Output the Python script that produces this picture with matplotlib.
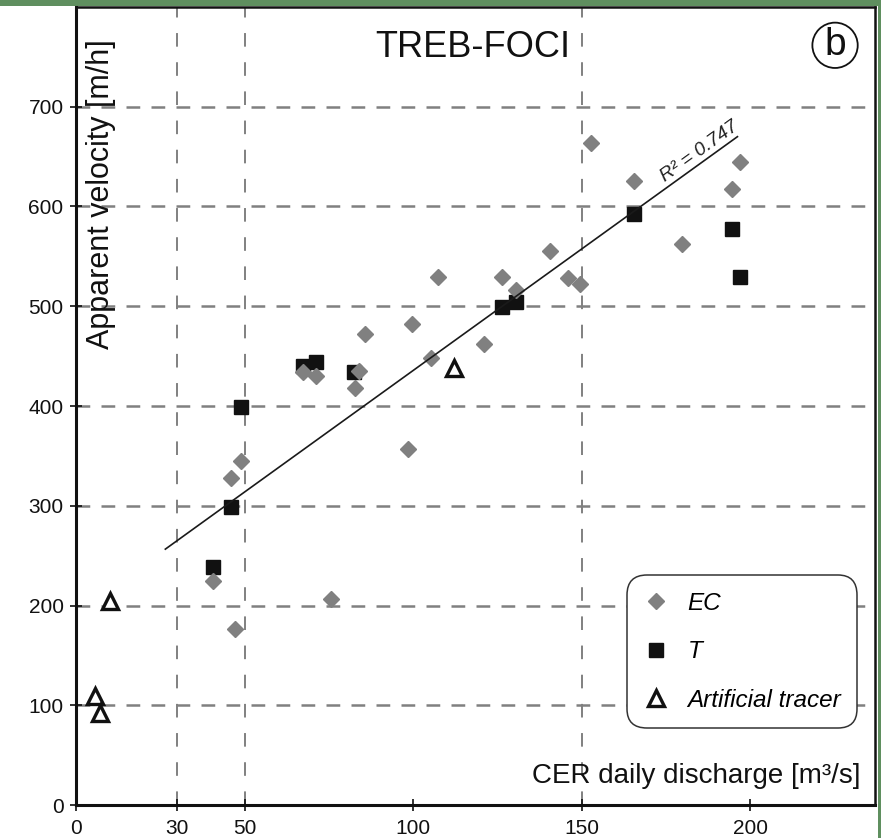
import numpy as np
import matplotlib
matplotlib.use("Agg")
import matplotlib.pyplot as plt
from matplotlib.patches import Rectangle

plt.rcParams["font.family"] = ["Liberation Sans", "DejaVu Sans"]

# --------------------------------------------------------------
# Data
# --------------------------------------------------------------
ec_x = [40.6, 47.2, 45.9, 49.0, 67.3, 71.2, 75.7, 84.0, 82.8, 85.8, 98.6, 99.8, 105.2,
        107.3, 121.0, 126.3, 130.6, 140.7, 145.9, 149.6, 152.7, 165.4, 179.9, 194.7, 197.0]
ec_y = [225, 176, 328, 345, 434, 430, 207, 435, 418, 472, 357, 482, 448,
        529, 462, 529, 516, 555, 528, 522, 664, 626, 562, 618, 645]

t_x = [40.6, 45.9, 49.0, 67.3, 71.2, 82.5, 126.3, 130.6, 165.4, 194.7, 197.0]
t_y = [239, 299, 399, 440, 444, 434, 499, 504, 592, 577, 529]

art_x = [10.1, 5.6, 7.1, 112.0]
art_y = [205, 109, 92, 438]

trend_x = [26.5, 196.2]
trend_y = [256.5, 670.0]
r2_label = "R² = 0.747"

x_ticks = [0, 30, 50, 100, 150, 200]
y_ticks = [0, 100, 200, 300, 400, 500, 600, 700]
v_grid = [30, 50, 150]

# --------------------------------------------------------------
# Figure / axes
# --------------------------------------------------------------
fig = plt.figure(figsize=(8.81, 8.38), dpi=100)
fig.patch.set_facecolor("#5f8f5f")
fig.patches.append(Rectangle((0, 0), 878 / 881, 832 / 838, transform=fig.transFigure,
                             facecolor="white", edgecolor="none", zorder=-10))
ax = fig.add_axes([76 / 881, 33 / 838, 799 / 881, 798 / 838])
ax.set_xlim(0, 237)
ax.set_ylim(0, 800)

for s in ax.spines.values():
    s.set_linewidth(1.8)
    s.set_color("#111111")
ax.spines["left"].set_linewidth(2.2)
ax.spines["bottom"].set_linewidth(2.2)

ax.set_xticks(x_ticks)
ax.set_yticks(y_ticks)
ax.tick_params(direction="inout", length=8, width=1.2, labelsize=15, colors="#111111")
ax.tick_params(axis="y", pad=5)
ax.tick_params(axis="x", pad=6)

# dashed grid
for y in y_ticks[1:]:
    ax.axhline(y, color="#808080", lw=1.8, dashes=(5.5, 4.5), zorder=0)
for x in v_grid:
    ax.axvline(x, color="#808080", lw=1.4, dashes=(7, 8), zorder=0)

# --------------------------------------------------------------
# Series
# --------------------------------------------------------------
ax.plot(t_x, t_y, "s", ms=9.8, color="#111111", zorder=3, label="T")
ax.plot(ec_x, ec_y, "D", ms=8.3, color="#808080", mec="#808080", zorder=4, label="EC")
ax.plot(trend_x, trend_y, "-", color="#1a1a1a", lw=1.2, zorder=5)
ax.plot(art_x, art_y, "^", ms=12, mfc="white", mec="#111111", mew=2.4, zorder=6,
        label="Artificial tracer")

# R2 label along the trend line
p0 = ax.transData.transform((trend_x[0], trend_y[0]))
p1 = ax.transData.transform((trend_x[1], trend_y[1]))
ang = np.degrees(np.arctan2(p1[1] - p0[1], p1[0] - p0[0]))
xr = 186.5
yr = trend_y[0] + (xr - trend_x[0]) * (trend_y[1] - trend_y[0]) / (trend_x[1] - trend_x[0])
ax.text(xr, yr + 2, r2_label, rotation=ang, rotation_mode="anchor", ha="center", va="bottom",
        fontsize=14, style="italic", color="#222222", zorder=7)

# --------------------------------------------------------------
# Text
# --------------------------------------------------------------
ax.text(0.496, 0.949, "TREB-FOCI", transform=ax.transAxes, ha="center", va="center",
        fontsize=26, color="#111111")
ax.text(0.950, 0.952, "b", transform=ax.transAxes, ha="center", va="center", fontsize=28,
        color="#111111", bbox=dict(boxstyle="circle,pad=0.12", fc="white", ec="#111111", lw=1.3))
ax.text(0.031, 0.766, "Apparent velocity [m/h]", transform=ax.transAxes, rotation=90,
        ha="center", va="center", fontsize=22, color="#111111")
ax.text(0.982, 0.036, "CER daily discharge [m³/s]", transform=ax.transAxes, ha="right",
        va="center", fontsize=20, color="#111111")

# legend
handles, labels = ax.get_legend_handles_labels()
order = [1, 0, 2]
leg = ax.legend([handles[i] for i in order], [labels[i] for i in order],
                loc="center", bbox_to_anchor=(0.834, 0.192),
                prop={"style": "italic", "size": 17.5}, handlelength=1.0, handletextpad=0.8,
                labelspacing=1.05, borderpad=0.55, borderaxespad=0, frameon=True, fancybox=True,
                framealpha=1, edgecolor="#333333")
leg.get_frame().set_boxstyle("round,pad=0.12,rounding_size=0.8")
leg.get_frame().set_linewidth(1.1)
leg.set_zorder(8)

fig.savefig("out.png", dpi=100, facecolor=fig.get_facecolor())
